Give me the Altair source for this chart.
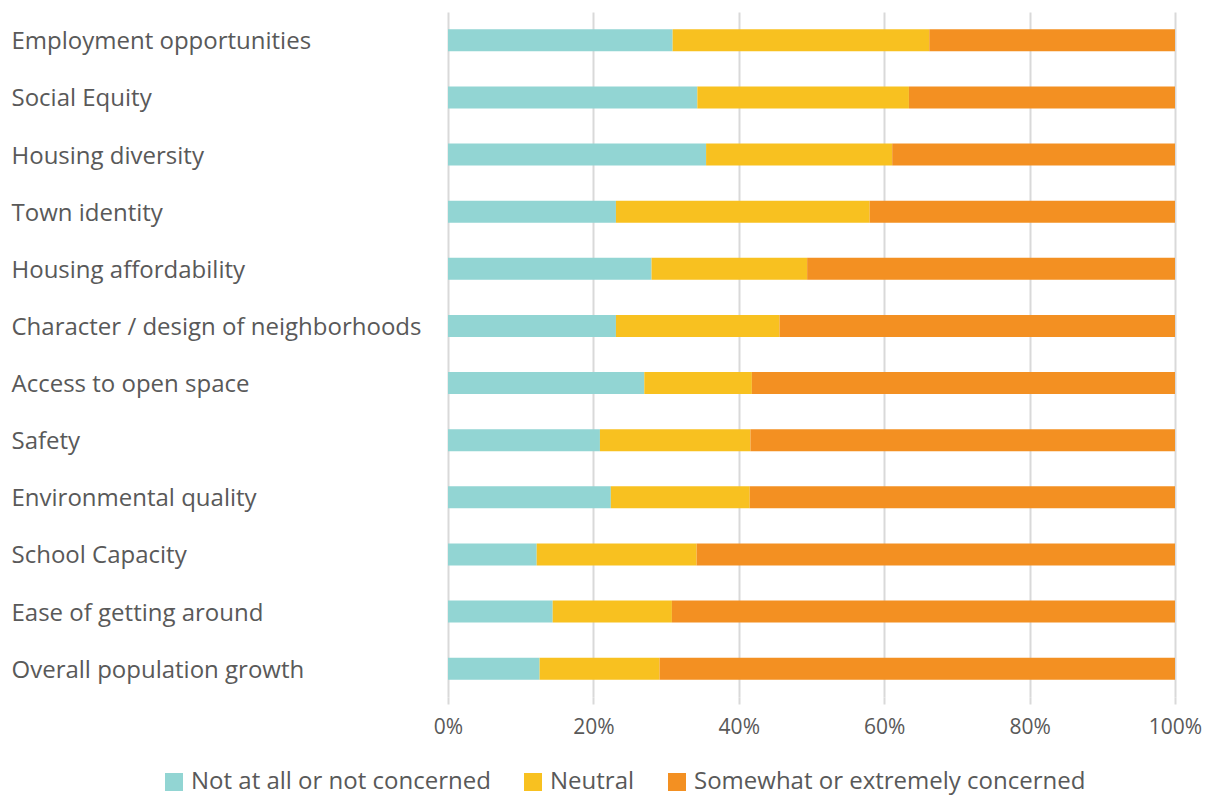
import altair as alt
import pandas as pd

categories = [
    "Employment opportunities",
    "Social Equity",
    "Housing diversity",
    "Town identity",
    "Housing affordability",
    "Character / design of neighborhoods",
    "Access to open space",
    "Safety",
    "Environmental quality",
    "\u2002School Capacity",
    "Ease of getting around",
    "Overall population growth",
]
not_concerned = [30.9, 34.3, 35.5, 23.1, 28.0, 23.1, 27.0, 20.9, 22.4, 12.2, 14.4, 12.6]
neutral = [35.3, 29.1, 25.6, 34.9, 21.4, 22.5, 14.8, 20.7, 19.1, 22.0, 16.4, 16.5]
concerned = [33.8, 36.6, 38.9, 42.0, 50.6, 54.4, 58.2, 58.4, 58.5, 65.8, 69.2, 70.9]

series_names = ["Not at all or not concerned", "Neutral", "Somewhat or extremely concerned"]
series_colors = ["#92D5D3", "#F8C120", "#F39022"]

rows = []
for i, c in enumerate(categories):
    for j, (name, vals) in enumerate(zip(series_names, [not_concerned, neutral, concerned])):
        rows.append({"category": c, "series": name, "value": vals[i], "order": j})
df = pd.DataFrame(rows)

font = "Open Sans"
text_color = "#595959"

chart = alt.Chart(df).mark_bar(size=22).encode(
    y=alt.Y("category:N", sort=categories, title=None,
            scale=alt.Scale(paddingInner=0.61, paddingOuter=0.3),
            axis=alt.Axis(labelAlign="left", labelPadding=437, ticks=False, domain=False,
                          labelFontSize=24, labelColor=text_color, labelFont=font,
                          labelOffset=2, labelLimit=500)),
    x=alt.X("value:Q", stack="normalize", title=None,
            scale=alt.Scale(domain=[0, 1], nice=False),
            axis=alt.Axis(values=[0, 0.2, 0.4, 0.6, 0.8, 1.0], format=".0%",
                          grid=True, gridColor="#D9D9D9", gridWidth=2,
                          domain=False, ticks=True, tickColor="#D9D9D9", tickWidth=2, tickSize=7,
                          labelFontSize=21, labelColor=text_color, labelFont=font,
                          labelFlush=False, labelPadding=12)),
    color=alt.Color("series:N", sort=series_names,
                    scale=alt.Scale(domain=series_names, range=series_colors),
                    legend=alt.Legend(title=None, orient="none", direction="horizontal",
                                      legendX=-286, legendY=758,
                                      symbolType="square", symbolSize=324,
                                      symbolStrokeWidth=0, symbolOffset=0,
                                      labelFontSize=24, labelColor=text_color,
                                      labelFont=font,
                                      labelLimit=600, columnPadding=30, labelOffset=5)),
    order=alt.Order("order:Q"),
).properties(
    width=727, height=685,
    padding={"left": 3, "top": 4, "right": 5, "bottom": 5},
).configure_view(stroke=None)

chart.save("out.html", embed_options={"renderer": "svg", "actions": False})
